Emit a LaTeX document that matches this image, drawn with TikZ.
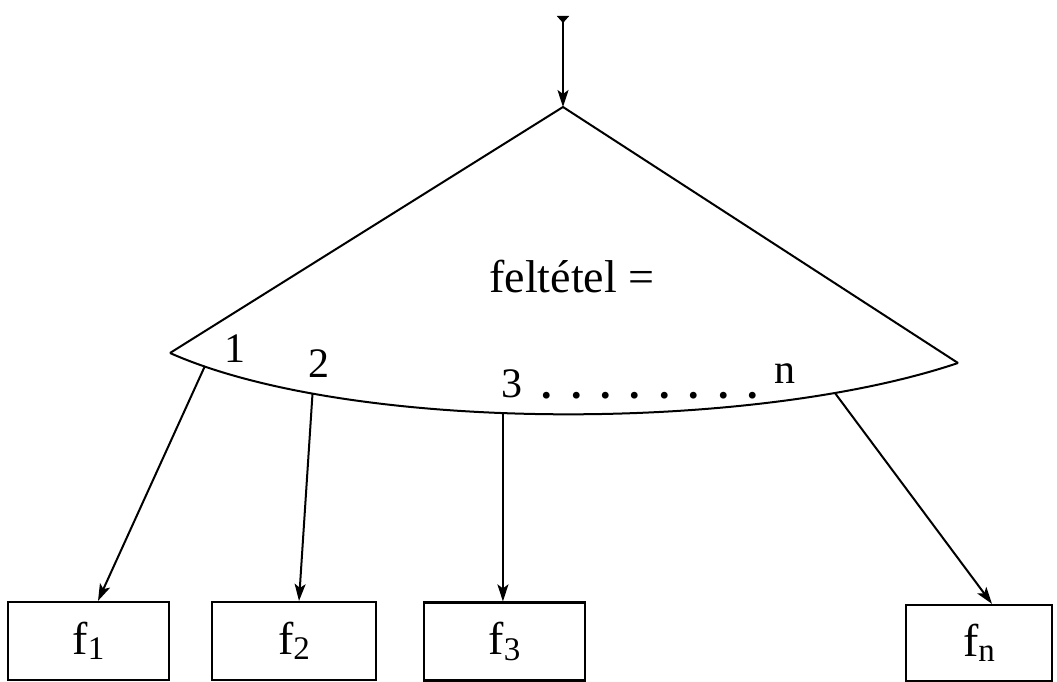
\documentclass[tikz,border=0pt]{standalone}
\usepackage{fontspec}
\setmainfont{Liberation Serif}
\usetikzlibrary{arrows.meta,calc}
\begin{document}
\begin{tikzpicture}[x=1pt,y=-1pt,
  line/.style={line width=2pt},
  arr/.style={line width=2pt,-{Stealth[length=17pt,width=11pt,inset=4pt]}},
  fbox/.style={draw,line width=2.2pt,minimum width=161pt,minimum height=78pt,inner sep=0pt,font=\fontsize{46}{50}\selectfont},
  lbl/.style={anchor=base,inner sep=0pt,font=\fontsize{42}{46}\selectfont},
  maintxt/.style={anchor=base,inner sep=0pt,font=\fontsize{46}{50}\selectfont}]
\useasboundingbox (0,0) rectangle (1057,682);
\newcommand{\fsub}[1]{f\raisebox{-0.12em}{\fontsize{33}{35}\selectfont #1}}
% apex, corners
\coordinate (top) at (563,16);
\coordinate (apex) at (563,107);
\coordinate (L) at (170,353);
\coordinate (R) at (958,363);
% triangle sides and bottom arc
\draw[line,line join=miter] (L) -- (apex) -- (R);
\draw[line] (L) .. controls (350,433) and (750,433) .. (R)
  coordinate[pos=0.06] (c1)
  coordinate[pos=0.215] (c2)
  coordinate[pos=0.443] (c3)
  coordinate[pos=0.827] (cn);
% incoming arrow
\draw[line width=2pt,{Triangle[reversed,length=7pt,width=12pt]}-{Stealth[length=17pt,width=11pt,inset=4pt]}] (top) -- (apex);
% texts
\node[maintxt] (cond) at (572,292) {feltétel =};
\node[lbl] (l1) at (235,362) {1};
\node[lbl] (l2) at (319,377) {2};
\node[lbl] (l3) at (512,397) {3};
\foreach \i in {0,...,7}{
  \node[lbl] (d\i) at (547+29.4*\i,398) {\textbf{.}};
}
\node[lbl] (ln) at (785,383) {n};
% boxes
\node[fbox] (b1) at (88.5,641) {\fsub{1}};
\node[fbox,minimum width=164pt] (b2) at (294,641) {\fsub{2}};
\node[fbox] (b3) at (504.5,641.5) {\fsub{3}};
\node[fbox,minimum width=146pt,minimum height=76pt] (bn) at (979,643) {\fsub{n}};
% connectors
\draw[arr] (c1) -- ([xshift=9.5pt]b1.north);
\draw[arr] (c2) -- ([xshift=5pt]b2.north);
\draw[arr] (c3) -- (c3 |- b3.north);
\draw[arr] (cn) -- ([xshift=13pt]bn.north);
\end{tikzpicture}
\end{document}
